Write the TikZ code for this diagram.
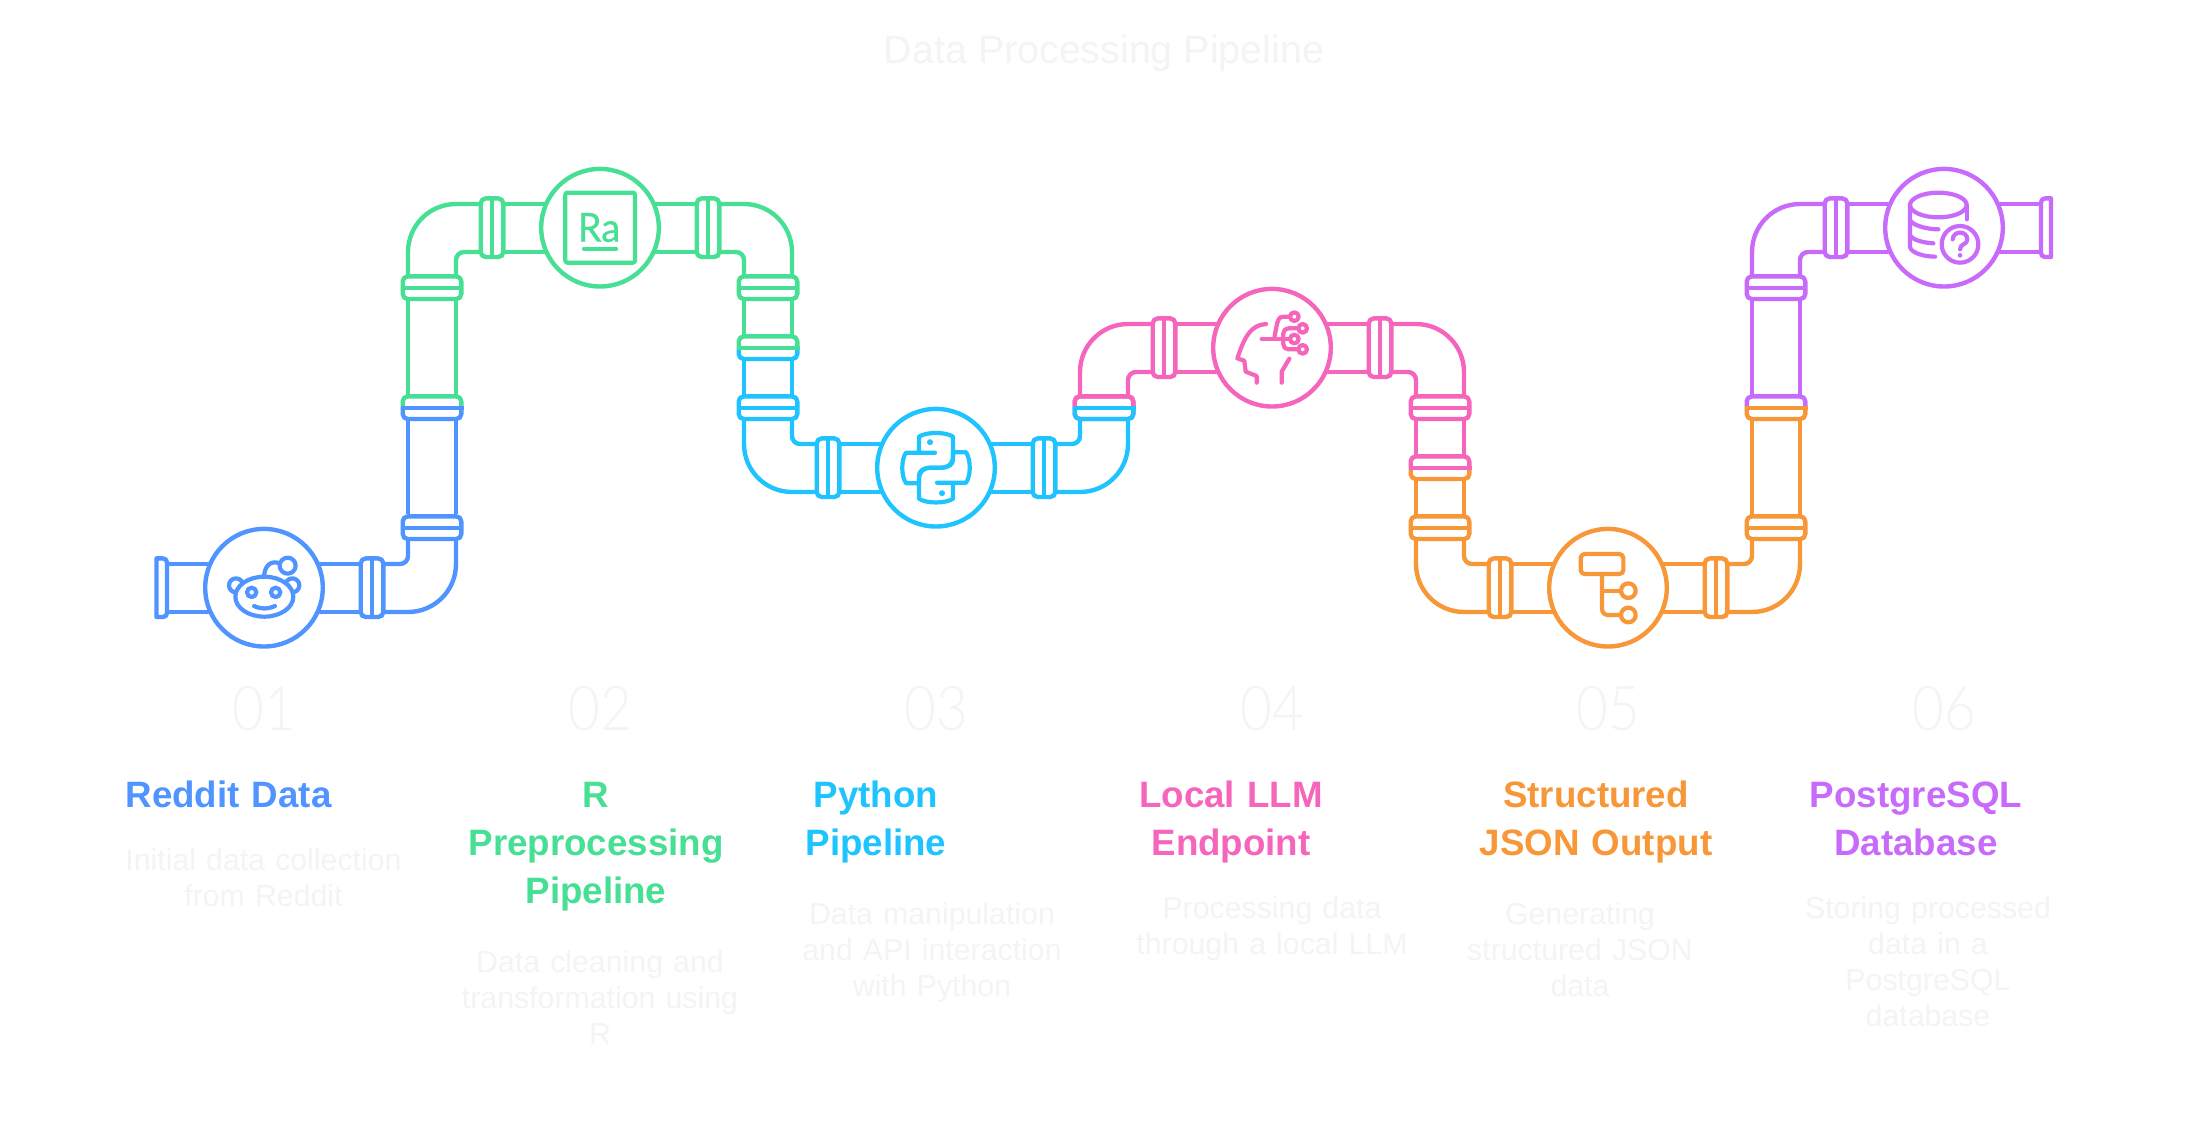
\documentclass[tikz,border=0pt]{standalone}
\usepackage{fontspec}
\setmainfont{Liberation Sans}
\newfontfamily\numf[FakeStretch=0.88]{Lato Light}
\newfontfamily\icof[FakeStretch=0.95,FakeBold=0.6]{Lato}
\definecolor{cblue}{HTML}{4F94FF}
\definecolor{cgreen}{HTML}{46DF94}
\definecolor{ccyan}{HTML}{1FC4FF}
\definecolor{cpink}{HTML}{F565BC}
\definecolor{corange}{HTML}{F89738}
\definecolor{cpurple}{HTML}{C86BFA}
\definecolor{cpale}{HTML}{F3F4F6}
\tikzset{
  pipeline/.style={line width=4.4pt,line cap=butt,line join=round},
  zoomed/.style={x=0.33333pt,y=-0.33333pt},
  hub/.style={circle,draw=#1,fill=white,line width=4.4pt,minimum size=117.6pt,inner sep=0pt},
  icon/.style={line width=4.2pt,line cap=round,line join=round},
  numtext/.style={text=cpale,font=\numf\fontsize{62}{62}\selectfont,anchor=base},
  headtext/.style={text=#1,font=\bfseries\fontsize{36.7}{48}\selectfont,anchor=base,align=center,text width=420pt},
  bodytext/.style={text=cpale,font=\fontsize{30.3}{36}\selectfont,anchor=base,align=center,text width=420pt}
}
% flange across a horizontal pipe
\newcommand\FlangeH[3]{\begin{scope}[shift={(#1,#2)}]
  \draw[pipeline,fill=white,rounded corners=5pt] (-11.3,-29.3) rectangle (11.3,29.3);
  \draw[pipeline] (0,-29.3)--(0,29.3);
\end{scope}}
% flange across a vertical pipe
\newcommand\FlangeV[2]{\begin{scope}[shift={(#1,#2)}]
  \draw[pipeline,fill=white,rounded corners=5pt] (-29.3,-11.3) rectangle (29.3,11.3);
  \draw[pipeline] (-29.3,0)--(29.3,0);
\end{scope}}
% two-colour flange: top, bottom, mid line colours
\newcommand\FlangeS[5]{\begin{scope}[shift={(#1,#2)}]
  \draw[pipeline,#3,rounded corners=5pt] (-29.3,0)--(-29.3,-11.3)--(29.3,-11.3)--(29.3,0);
  \draw[pipeline,#4,rounded corners=5pt] (-29.3,0)--(-29.3,11.3)--(29.3,11.3)--(29.3,0);
  \draw[pipeline,#5] (-31.5,0)--(31.5,0);
\end{scope}}
% arch (green geometry), parts
\newcommand\ArchLeft{
  \draw[pipeline,rounded corners=48pt] (408,275)--(408,204)--(481,204);
  \draw[pipeline,rounded corners=8pt] (456,275)--(456,252)--(481,252);
  \draw[pipeline] (503,204)--(600,204) (503,252)--(600,252);
  \FlangeV{432}{287.7}
  \FlangeH{492}{227.7}{}
}
\newcommand\ArchRight{
  \draw[pipeline,rounded corners=48pt] (792,275)--(792,204)--(719,204);
  \draw[pipeline,rounded corners=8pt] (744,275)--(744,252)--(719,252);
  \draw[pipeline] (697,204)--(600,204) (697,252)--(600,252);
  \FlangeV{768}{287.7}
  \FlangeH{708}{227.7}{}
}
% trough (cyan geometry), parts
\newcommand\TroughLeft{
  \draw[pipeline,rounded corners=48pt] (744,421)--(744,492)--(817,492);
  \draw[pipeline,rounded corners=8pt] (792,421)--(792,444)--(817,444);
  \draw[pipeline] (839,492)--(936,492) (839,444)--(936,444);
  \FlangeV{768}{407.7}
  \FlangeH{828}{467.7}{}
}
\newcommand\TroughRight{
  \draw[pipeline,rounded corners=48pt] (1128,421)--(1128,492)--(1055,492);
  \draw[pipeline,rounded corners=8pt] (1080,421)--(1080,444)--(1055,444);
  \draw[pipeline] (1033,492)--(936,492) (1033,444)--(936,444);
  \FlangeH{1044}{467.7}{}
}
\begin{document}
\begin{tikzpicture}[x=1pt,y=-1pt]
\useasboundingbox (0,0) rectangle (2208,1128);
\fill[white] (0,0) rectangle (2208,1128);

% blue segment
\begin{scope}[color=cblue]
  \begin{scope}[shift={(-672,120)}]\TroughRight\end{scope}
  \draw[pipeline] (167,564)--(264,564) (167,612)--(264,612);
  \draw[pipeline,fill=white] (156.5,558.4) {[rounded corners=4pt] -- (167,558.4) -- (167,617)} -- (156.5,617) -- cycle;
  \FlangeV{432}{527.7}
  \draw[pipeline] (408,421)--(408,514) (456,421)--(456,514);
  \node[hub=cblue] (hubA) at (264,587.7) {};
\end{scope}

% green segment
\begin{scope}[color=cgreen]
  \ArchLeft\ArchRight
  \draw[pipeline] (408,301)--(408,395) (456,301)--(456,395);
  \draw[pipeline] (744,301)--(744,337) (792,301)--(792,337);
  \node[hub=cgreen] (hubB) at (600,227.7) {};
\end{scope}
\FlangeS{432}{407.7}{cgreen}{cblue}{cblue}

% cyan segment
\begin{scope}[color=ccyan]
  \TroughLeft\TroughRight
  \draw[pipeline] (744,361)--(744,395) (792,361)--(792,395);
  \node[hub=ccyan] (hubC) at (936,467.7) {};
\end{scope}
\FlangeS{768}{347.7}{cgreen}{ccyan}{cgreen}

% pink segment
\begin{scope}[color=cpink]
  \begin{scope}[shift={(672,120)}]
    \ArchLeft\ArchRight
    \draw[pipeline] (744,301)--(744,337) (792,301)--(792,337);
  \end{scope}
  \node[hub=cpink] (hubD) at (1272,347.7) {};
\end{scope}
\FlangeS{1104}{407.7}{cpink}{ccyan}{ccyan}

% orange segment
\begin{scope}[color=corange]
  \begin{scope}[shift={(672,120)}]
    \TroughLeft\TroughRight
    \draw[pipeline] (744,361)--(744,395) (792,361)--(792,395);
    \FlangeV{1104}{407.7}
    \draw[pipeline] (1080,301)--(1080,395) (1128,301)--(1128,395);
  \end{scope}
  \node[hub=corange] (hubE) at (1608,587.7) {};
\end{scope}
\FlangeS{1440}{467.7}{cpink}{corange}{cpink}

% purple segment
\begin{scope}[color=cpurple]
  \begin{scope}[shift={(1344,0)}]
    \ArchLeft
    \draw[pipeline] (408,301)--(408,395) (456,301)--(456,395);
  \end{scope}
  \draw[pipeline] (1944,204)--(2041,204) (1944,252)--(2041,252);
  \draw[pipeline,fill=white] (2051,198.4) {[rounded corners=4pt] -- (2041,198.4) -- (2041,257)} -- (2051,257) -- cycle;
  \node[hub=cpurple] (hubF) at (1944,227.7) {};
\end{scope}
\FlangeS{1776}{407.7}{cpurple}{corange}{corange}

% reddit icon
\begin{scope}[shift={(130,480)},zoomed,color=cblue,icon]
  \draw[fill=white] (318,316) circle (21);
  \draw[fill=white] (487,316) circle (21);
  \draw[fill=white] (403,350) ellipse (87 and 60);
  \draw (365,337) circle (14) (437,337) circle (14);
  \draw (372,378) .. controls (395,388) and (412,388) .. (435,378);
  \draw (402,288) .. controls (405,258) and (420,240) .. (450,250);
  \draw[fill=white] (473,257) circle (24);
\end{scope}

% R icon
\begin{scope}[shift={(380,150)},zoomed,color=cgreen,icon]
  \draw[rounded corners=2pt] (556,128) rectangle (765,338);
  \draw (612,296)--(708,296);
\end{scope}
\node[text=cgreen,font=\icof\fontsize{40}{40}\selectfont,anchor=base] (ratext) at (599,241.7) {Ra};

% python icon
\begin{scope}[shift={(936,467.7)},color=ccyan,icon]
  \foreach \r in {0,180}{
  \begin{scope}[rotate=\r]
    \draw (-1,-15)--(-30,-15) .. controls (-35,-8) and (-35,8) .. (-30,15.5)--(-17,15.5)--(-17,8)
      .. controls (-17,3) and (-12,0) .. (-6,0)--(4,0) .. controls (12,0) and (17,-3) .. (17,-12)
      --(17,-31) .. controls (10,-36) and (-10,-36) .. (-17,-31)--(-17,-15);
    \fill (-6,-25.5) circle (3);
  \end{scope}}
\end{scope}

% head icon
\begin{scope}[shift={(1180,270)},zoomed,color=cpink,icon]
  \draw (258,162) .. controls (215,165) and (195,195) .. (172,265)--(193,272)--(197,305)--(230,318)--(230,338);
  \draw (305,338)--(305,305)--(328,266);
  \draw (245,207)--(330,207);
  \draw (343,207) circle (13);
  \draw (343,140) circle (13);
  \draw (330,140)--(310,140) .. controls (295,140) and (292,150) .. (283,205);
  \draw[rounded corners=5pt] (355,175)--(310,175)--(310,238)--(355,238);
  \draw (368,175) circle (13) (368,238) circle (13);
\end{scope}

% tree icon
\begin{scope}[shift={(1400,500)},zoomed,color=corange,icon]
  \draw[rounded corners=4pt] (542,162) rectangle (670,222);
  \draw[rounded corners=6pt] (606,222)--(606,345)--(662,345);
  \draw (606,272)--(662,272);
  \draw (685,272) circle (22) (685,345) circle (22);
\end{scope}

% database icon
\begin{scope}[shift={(1730,150)},zoomed,color=cpurple,icon]
  \draw (625,165) ellipse (85 and 37);
  \draw (540,165)--(540,292) .. controls (545,310) and (585,320) .. (615,320);
  \draw (540,210) .. controls (545,225) and (590,238) .. (625,238);
  \draw (540,255) .. controls (545,268) and (575,278) .. (610,280);
  \draw (710,165)--(710,208);
  \draw (690,283) circle (55);
  \draw (668,268) .. controls (670,240) and (712,242) .. (712,268) .. controls (712,285) and (690,280) .. (690,298);
  \fill (690,316) circle (7);
\end{scope}

% texts
\node[text=cpale,font=\fontsize{39.4}{39}\selectfont,anchor=base] (title) at (1104,63.5) {Data Processing Pipeline};

\node[numtext] (numA) at (264,730) {01};
\node[numtext] (numB) at (600,730) {02};
\node[numtext] (numC) at (936,730) {03};
\node[numtext] (numD) at (1272,730) {04};
\node[numtext] (numE) at (1608,730) {05};
\node[numtext] (numF) at (1944,730) {06};

\node[headtext=cblue] (headA) at (228.5,807.5) {Reddit Data};
\node[headtext=cgreen] (headB) at (596,807.5) {R\\Preprocessing\\Pipeline};
\node[headtext=ccyan] (headC) at (876,807.5) {Python\\Pipeline};
\node[headtext=cpink] (headD) at (1231,807.5) {Local LLM\\Endpoint};
\node[headtext=corange] (headE) at (1596,807.5) {Structured\\JSON Output};
\node[headtext=cpurple] (headF) at (1916,807.5) {PostgreSQL\\Database};

\node[bodytext] (bodyA) at (263.5,870) {Initial data collection\\from Reddit};
\node[bodytext] (bodyB) at (600,972) {Data cleaning and\\transformation using\\R};
\node[bodytext] (bodyC) at (932,924) {Data manipulation\\and API interaction\\with Python};
\node[bodytext] (bodyD) at (1272,918) {Processing data\\through a local LLM};
\node[bodytext] (bodyE) at (1580,924) {Generating\\structured JSON\\data};
\node[bodytext] (bodyF) at (1928,918) {Storing processed\\data in a\\PostgreSQL\\database};
\end{tikzpicture}
\end{document}
